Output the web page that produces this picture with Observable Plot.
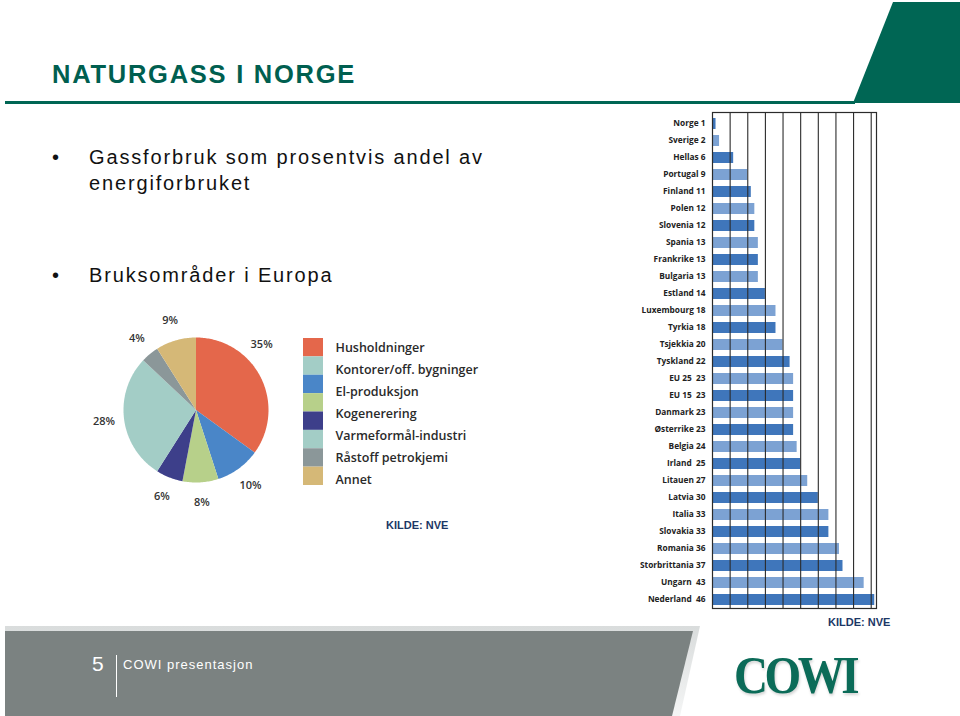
<!DOCTYPE html>
<html>
<head>
<meta charset="utf-8">
<script src="https://cdn.jsdelivr.net/npm/d3@7"></script>
<script src="https://cdn.jsdelivr.net/npm/@observablehq/plot@0.6"></script>
<style>
  html, body { margin: 0; padding: 0; background: #fff; }
  #page { position: relative; width: 960px; height: 716px; overflow: hidden; background: #fff; font-family: "Liberation Sans", Arial, sans-serif; }
  .abs { position: absolute; }
  #title { left: 52px; top: 60px; font-size: 25.5px; font-weight: bold; color: #005f50; letter-spacing: 1.75px; white-space: nowrap; }
  .bullet { left: 52px; font-size: 20px; color: #111; letter-spacing: 1.85px; white-space: nowrap; line-height: 26px; }
  .bullet .dot { display: inline-block; width: 37px; }
  .bullet .cont { padding-left: 37px; }
  .kilde { font-size: 11px; font-weight: bold; color: #1c3766; white-space: nowrap; }
  #cowi { left: 734px; top: 645px; font-family: "Liberation Serif", "DejaVu Serif", serif; font-weight: bold; font-size: 53px; line-height: 61px; color: #0b6b58; letter-spacing: -4px; transform: scaleX(0.89); transform-origin: left top; text-shadow: 1px 2px 3px rgba(0,0,0,0.18); }
  #footnum { left: 92px; top: 652px; font-size: 21px; color: #fff; }
  #footline { left: 116px; top: 655px; width: 1px; height: 42px; background: #fff; }
  #foottext { left: 123px; top: 657px; font-size: 13px; color: #fff; letter-spacing: 1px; white-space: nowrap; }
</style>
</head>
<body>
<div id="page">
  <svg class="abs" style="left:0;top:0" width="960" height="716">
    <defs>
      <linearGradient id="fshade" x1="0" y1="0" x2="0" y2="1">
        <stop offset="0" stop-color="#d9dcdc"/>
        <stop offset="1" stop-color="#f4f5f5"/>
      </linearGradient>
    </defs>
    <polygon points="893,2 960,2 960,103 853,103" fill="#006654"/>
    <rect x="5" y="101" width="850" height="3" fill="#006654"/>
    <polygon points="5,626 700,626 680,716 5,716" fill="url(#fshade)"/>
    <polygon points="5,631 693,631 672,716 5,716" fill="#7b8281"/>
  </svg>

  <div id="title" class="abs">NATURGASS I NORGE</div>
  <div class="abs bullet" style="top:144px"><span class="dot">•</span>Gassforbruk som prosentvis andel av<div class="cont">energiforbruket</div></div>
  <div class="abs bullet" style="top:262px"><span class="dot">•</span>Bruksområder i Europa</div>

  <div id="pie" class="abs" style="left:80px;top:305px"></div>
  <div id="legend" class="abs" style="left:300px;top:335px"></div>
  <div id="bars" class="abs" style="left:640px;top:100px"></div>

  <div class="abs kilde" style="left:386px;top:519px">KILDE: NVE</div>
  <div class="abs kilde" style="left:828px;top:616px">KILDE: NVE</div>

  <div id="footnum" class="abs">5</div>
  <div id="footline" class="abs"></div>
  <div id="foottext" class="abs">COWI presentasjon</div>
  <div id="cowi" class="abs">COWI</div>
</div>

<script>
// ---------- Data ----------
// Pie: bruksområder i Europa (clockwise from 12 o'clock)
const pieLabels = ["Husholdninger", "El-produksjon", "Kogenerering", "Kogenerering (mørk)", "Varmeformål-industri", "Råstoff petrokjemi", "Annet"];
const pieValues = [35, 10, 8, 6, 28, 4, 9];
const pieColors = ["#e4674b", "#4a86c8", "#b7d08a", "#3d3f8a", "#a3cdc6", "#8b9799", "#d5b877"];
// label angle nudge (degrees) for the 35% label, as printed
const pieLabelNudge = [-18, 0, 0, 0, 0, 0, 0];

// Legend as printed (8 swatches, 7 labels)
const legendSwatches = ["#e4674b", "#a3cdc6", "#4a86c8", "#b7d08a", "#3d3f8a", "#a3cdc6", "#8b9799", "#d5b877"];
const legendLabels = ["Husholdninger", "Kontorer/off. bygninger", "El-produksjon", "Kogenerering", "Varmeformål-industri", "Råstoff petrokjemi", "Annet"];

// Bars: gassforbruk som andel av energiforbruket (%)
const countryLabels = ["Norge 1", "Sverige 2", "Hellas 6", "Portugal 9", "Finland 11", "Polen 12", "Slovenia 12", "Spania 13", "Frankrike 13", "Bulgaria 13", "Estland 14", "Luxembourg 18", "Tyrkia 18", "Tsjekkia 20", "Tyskland 22", "EU 25  23", "EU 15  23", "Danmark 23", "Østerrike 23", "Belgia 24", "Irland  25", "Litauen 27", "Latvia 30", "Italia 33", "Slovakia 33", "Romania 36", "Storbrittania 37", "Ungarn  43", "Nederland  46"];
const countryValues = [1, 2, 6, 10, 11, 12, 12, 13, 13, 13, 15, 18, 18, 20, 22, 23, 23, 23, 23, 24, 25, 27, 30, 33, 33, 36, 37, 43, 46];
const gridTicks = [5, 10, 15, 20, 25, 30, 35, 40, 45];
const barColors = ["#3f76bb", "#7ca2d3"];

// ---------- Pie ----------
{
  const W = 420, H = 210, cx = 115.5, cy = 104.5, r = 72.5;
  const total = d3.sum(pieValues);
  const arcs = d3.pie().sort(null).value(d => d)(pieValues);
  const pts = [];
  arcs.forEach((a, i) => {
    pts.push({k: i, x: 0, y: 0});
    const n = Math.max(2, Math.ceil((a.endAngle - a.startAngle) * 180 / Math.PI));
    for (let j = 0; j <= n; j++) {
      const t = a.startAngle + (a.endAngle - a.startAngle) * j / n;
      pts.push({k: i, x: Math.sin(t), y: -Math.cos(t)});
    }
    pts.push({k: i, x: 0, y: 0});
  });
  const labels = arcs.map((a, i) => {
    const m = (a.startAngle + a.endAngle) / 2 + pieLabelNudge[i] * Math.PI / 180;
    return {x: 1.28 * Math.sin(m), y: -1.28 * Math.cos(m), t: Math.round(pieValues[i] / total * 100) + "%"};
  });
  const svg = Plot.plot({
    width: W, height: H,
    margin: 0,
    x: {domain: [-cx / r, (W - cx) / r], range: [0, W], axis: null},
    y: {domain: [-cy / r, (H - cy) / r], range: [0, H], axis: null},
    style: {fontFamily: "'Open Sans', 'Noto Sans', sans-serif", fontSize: "11px", background: "transparent", overflow: "visible"},
    marks: [
      Plot.line(pts, {x: "x", y: "y", z: "k", fill: d => pieColors[d.k], stroke: "none", curve: "linear"}),
      Plot.text(labels, {x: "x", y: "y", text: "t", fill: "#333", fontSize: 11, fontWeight: 600})
    ]
  });
  document.getElementById("pie").appendChild(svg);
}

// ---------- Legend ----------
{
  const W = 200, H = 155;
  const sw = legendSwatches.map((c, i) => ({i, c}));
  const lb = legendLabels.map((t, i) => ({t, y: 0.54 + i * 1.197}));
  const svg = Plot.plot({
    width: W, height: H,
    margin: 0,
    x: {domain: [0, 197], range: [3, 200], axis: null},
    y: {domain: [0, legendSwatches.length], range: [3, 150], axis: null},
    style: {fontFamily: "'Open Sans', 'Noto Sans', sans-serif", background: "transparent", overflow: "visible"},
    marks: [
      Plot.rect(sw, {x1: 0, x2: 20, y1: d => d.i, y2: d => d.i + 1, fill: "c"}),
      Plot.text(lb, {x: 32, y: "y", text: "t", textAnchor: "start", fill: "#2a2a2a", fontSize: 12.5, fontWeight: 600})
    ]
  });
  document.getElementById("legend").appendChild(svg);
}

// ---------- Bars ----------
{
  const data = countryLabels.map((c, i) => ({c, v: countryValues[i], i}));
  const svg = Plot.plot({
    width: 250, height: 520,
    marginLeft: 72, marginRight: 14, marginTop: 12, marginBottom: 12,
    x: {domain: [0, 46.5], axis: null},
    y: {domain: countryLabels, range: [15, 508], paddingInner: 0.34, paddingOuter: 0, label: null},
    style: {fontFamily: "'Open Sans', 'Noto Sans', sans-serif", fontSize: "8.3px", background: "transparent", overflow: "hidden"},
    marks: [
      Plot.barX(data, {x: "v", y: "c", fill: d => barColors[d.i % 2]}),
      Plot.ruleX(gridTicks, {stroke: "#2b2b2b", strokeWidth: 1.1}),
      Plot.frame({stroke: "#2b2b2b", strokeWidth: 1.2}),
      Plot.axisY({tickSize: 0, tickPadding: 7, fontWeight: 700, fill: "#222", fontSize: 8.3, dy: -1, label: null})
    ]
  });
  document.getElementById("bars").appendChild(svg);
}
</script>
</body>
</html>
